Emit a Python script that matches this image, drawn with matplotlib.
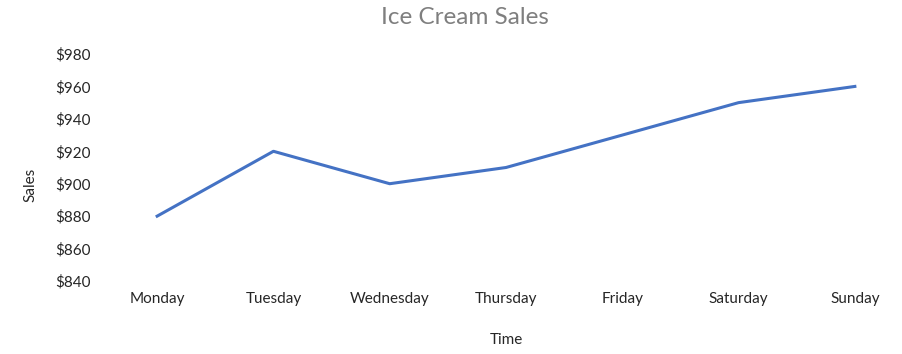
import matplotlib
matplotlib.use('Agg')
import matplotlib.pyplot as plt
from matplotlib.ticker import FuncFormatter

days = ['Monday', 'Tuesday', 'Wednesday', 'Thursday', 'Friday', 'Saturday', 'Sunday']
sales = [880, 920, 900, 910, 930, 950, 960]
y_ticks = [840, 860, 880, 900, 920, 940, 960, 980]

plt.rcParams['font.family'] = ['Lato', 'DejaVu Sans']

fig = plt.figure(figsize=(9.03, 3.54), dpi=100)
ax = fig.add_axes([99 / 903, 73 / 354, 814 / 903, 227 / 354])

ax.plot(range(len(days)), sales, color='#4472C4', lw=2.2, solid_joinstyle='round')

ax.set_xlim(-0.5, len(days) - 0.5)
ax.set_ylim(840, 980)
ax.set_xticks(range(len(days)))
ax.set_xticklabels(days)
ax.set_yticks(y_ticks)
ax.yaxis.set_major_formatter(FuncFormatter(lambda v, p: f'${v:.0f}'))
ax.tick_params(length=0, labelsize=11, labelcolor='#262626')
ax.tick_params(axis='y', pad=6)
ax.tick_params(axis='x', pad=8)
for s in ax.spines.values():
    s.set_visible(False)

fig.text(465 / 903, 1 - 18 / 354, 'Ice Cream Sales', ha='center', va='center',
         fontsize=17.5, color='#7F7F7F')
fig.text(30 / 903, 1 - 185 / 354, 'Sales', ha='center', va='center',
         rotation=90, fontsize=11, color='#262626')
fig.text(506 / 903, 1 - 340 / 354, 'Time', ha='center', va='center',
         fontsize=11, color='#262626')

fig.savefig('out.png', dpi=100)
